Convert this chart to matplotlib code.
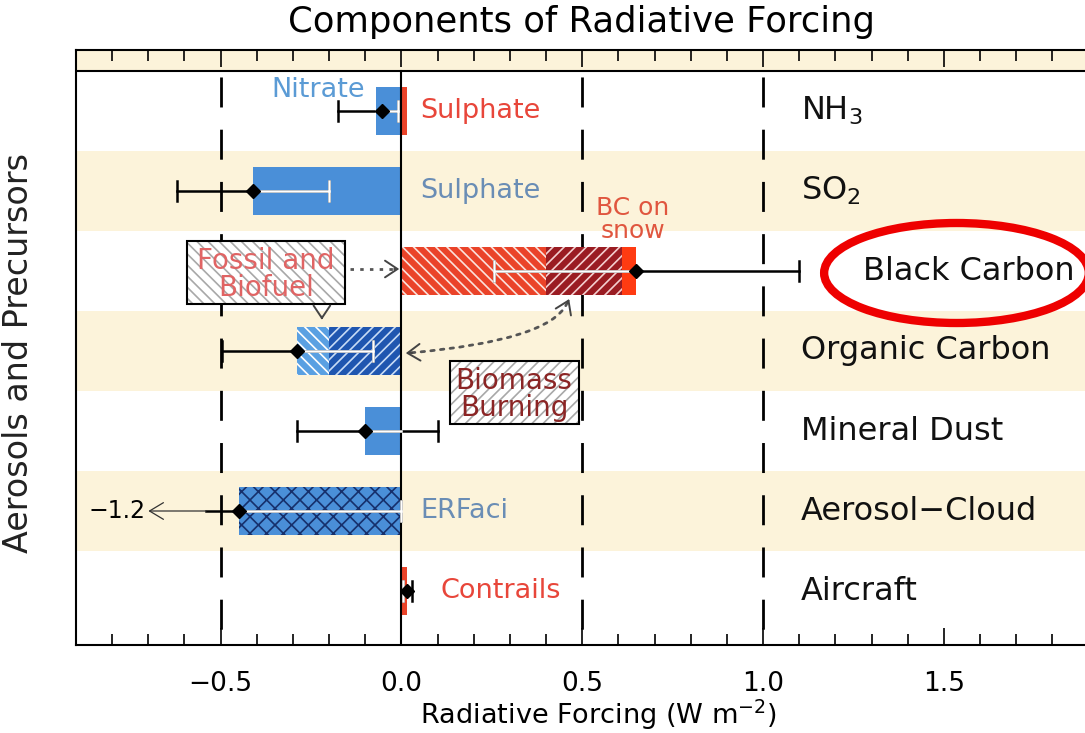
import matplotlib
matplotlib.use("Agg")
import matplotlib.pyplot as plt
from matplotlib.patches import Rectangle, Ellipse, FancyArrowPatch
from matplotlib.ticker import MultipleLocator

plt.rcParams["font.family"] = ["DejaVu Sans"]
plt.rcParams["hatch.linewidth"] = 1.2
plt.rcParams["lines.scale_dashes"] = False

# ---- data -------------------------------------------------------------
categories = ["NH$_3$", "SO$_2$", "Black Carbon", "Organic Carbon",
              "Mineral Dust", "Aerosol\u2212Cloud", "Aircraft"]
best = [-0.055, -0.41, 0.65, -0.29, -0.10, -0.45, 0.015]
err_low = [-0.175, -0.62, 0.255, -0.495, -0.29, -1.2, 0.005]
err_high = [-0.01, -0.20, 1.10, -0.078, 0.10, 0.0, 0.03]

nh3_nitrate = -0.07
nh3_sulphate = 0.015
so2_sulphate = -0.41
bc_parts = [0.40, 0.21, 0.04]      # fossil & biofuel, biomass burning, on snow
oc_parts = [-0.20, -0.09]          # biomass burning, fossil & biofuel
dust = -0.10
erfaci = -0.45
contrails = 0.015

# ---- styling ----------------------------------------------------------
BLUE = "#4a8fd8"
RED = "#ea4329"
DARKRED = "#9a1c22"
SNOW = "#ff3b12"
OC_LIGHT = "#5aa0e2"
OC_DARK = "#1f56b0"
CREAM = "#fcf3da"
BAR_H = 0.6

fig = plt.figure(figsize=(10.85, 7.33), dpi=100)
ax = fig.add_axes([76 / 1085, 88 / 733, 1045 / 1085, 595 / 733])
x_left, x_right = -0.9, 1.99
y_top, y_bot = -0.7625, 6.675
ax.set_xlim(x_left, x_right)
ax.set_ylim(y_bot, y_top)

# alternating row shading
for yc in (-1, 1, 3, 5):
    ax.axhspan(yc - 0.5, yc + 0.5, color=CREAM, lw=0, zorder=0)
ax.axhline(-0.5, color="k", lw=1.5, zorder=3)

# reference lines
for xv in (-0.5, 0.5, 1.0):
    ax.plot([xv, xv], [-0.5, y_bot], color="k", lw=2.0,
            linestyle=(33.3, (21.6, 16.0)), zorder=1)
ax.plot([0, 0], [-0.5, y_bot], color="k", lw=1.5, zorder=4)

# ---- bars -------------------------------------------------------------
def seg(y, left, width, color, hatch=None, hcol=None):
    ax.barh(y, width, left=left, height=BAR_H, color=color, hatch=hatch,
            edgecolor=hcol if hcol else color, linewidth=0, zorder=2)

seg(0, 0, nh3_nitrate, BLUE)
seg(0, 0, nh3_sulphate, RED)
seg(1, 0, so2_sulphate, BLUE)
seg(2, 0, bc_parts[0], RED, "\\\\\\", "#fbe2dc")
seg(2, bc_parts[0], bc_parts[1], DARKRED, "///", "#f4d0d0")
seg(2, bc_parts[0] + bc_parts[1], bc_parts[2], SNOW)
seg(3, 0, oc_parts[0], OC_DARK, "///", "#c8dcf6")
seg(3, oc_parts[0], oc_parts[1], OC_LIGHT, "\\\\\\", "#ffffff")
seg(4, 0, dust, BLUE)
seg(5, 0, erfaci, BLUE, "xx", "#16306c")
seg(6, 0, contrails, RED)

bar_min = [nh3_nitrate, so2_sulphate, 0, sum(oc_parts), dust, erfaci, 0]
bar_max = [nh3_sulphate, 0, sum(bc_parts), 0, 0, 0, contrails]

# ---- uncertainty ranges -----------------------------------------------
CAP = 0.12
x_clip = -0.54          # where an off-scale range is cut and arrowed
for i in range(len(categories)):
    lo, hi = err_low[i], err_high[i]
    off_scale = lo < x_left
    lo_d = x_clip if off_scale else lo
    ax.plot([lo_d, hi], [i, i], color="k", lw=1.8, zorder=5)
    if not off_scale:
        ax.plot([lo, lo], [i - CAP, i + CAP], color="k", lw=1.8, zorder=5)
    ax.plot([hi, hi], [i - CAP, i + CAP], color="k", lw=1.8, zorder=5)
    a, b = max(lo, bar_min[i]), min(hi, bar_max[i])
    if b > a:
        ax.plot([a, b], [i, i], color="white", lw=1.8, zorder=5)
        for e in (lo, hi):
            if a <= e <= b:
                ax.plot([e, e], [i - CAP, i + CAP], color="white", lw=1.8,
                        zorder=5)
    ax.plot(best[i], i, marker="D", color="k", ms=7, zorder=6)
    if off_scale:
        ax.annotate("", xy=(-0.70, i), xytext=(x_clip, i),
                    arrowprops=dict(arrowstyle="->,head_length=0.5,head_width=0.3",
                                    lw=0.9, color="#333333", shrinkA=0,
                                    shrinkB=0, mutation_scale=20), zorder=5)
        ax.text(-0.708, i, f"{lo:.1f}".replace("-", "\u2212"), ha="right",
                va="center", fontsize=17, color="k", zorder=6)

# ---- labels -----------------------------------------------------------
LBL = 19.5
ax.text(-0.1, -0.26, "Nitrate", color="#5b9bd5", fontsize=LBL, ha="right",
        va="center", zorder=6)
ax.text(0.053, 0, "Sulphate", color="#e8463a", fontsize=LBL, va="center",
        zorder=6)
ax.text(0.053, 1, "Sulphate", color="#6a8db5", fontsize=LBL, va="center",
        zorder=6)
ax.text(0.64, 1.36, "BC on\nsnow", color="#e0563f", fontsize=18,
        ha="center", va="center", linespacing=0.95, zorder=6)
ax.text(0.053, 5, "ERFaci", color="#6a8db5", fontsize=LBL, va="center",
        zorder=6)
ax.text(0.108, 6, "Contrails", color="#e8463a", fontsize=LBL, va="center",
        zorder=6)

for i, cat in enumerate(categories):
    xt = 1.277 if cat == "Black Carbon" else 1.105
    ax.text(xt, i, cat, fontsize=23, va="center", color="#111111", zorder=6)

# source boxes
def source_box(x0, x1, y0, y1, text, tcolor, hatch):
    ax.add_patch(Rectangle((x0, y0), x1 - x0, y1 - y0, facecolor="white",
                           edgecolor="#a8a8a8", hatch=hatch, lw=0, zorder=6))
    ax.add_patch(Rectangle((x0, y0), x1 - x0, y1 - y0, fill=False,
                           edgecolor="k", lw=1.5, zorder=7))
    ax.text((x0 + x1) / 2, (y0 + y1) / 2 + 0.02, text, color=tcolor,
            fontsize=20, ha="center", va="center", linespacing=0.95, zorder=8)

source_box(-0.593, -0.155, 1.625, 2.4125, "Fossil and\nBiofuel", "#e06464", "\\\\\\")
source_box(0.133, 0.49, 3.125, 3.9125, "Biomass\nBurning", "#8b2525", "///")

DOT = (0, (2.5, 4.5))
HEAD = dict(arrowstyle="->,head_length=0.45,head_width=0.3", lw=1.4,
            color="#444444", shrinkA=0, shrinkB=0, mutation_scale=20)

ax.plot([-0.141, -0.02], [1.975, 1.975], color="#555555", lw=2,
        linestyle=DOT, zorder=6)
ax.annotate("", xy=(-0.006, 1.975), xytext=(-0.02, 1.975), arrowprops=HEAD,
            zorder=7)
ax.annotate("", xy=(-0.22, 2.61), xytext=(-0.22, 2.57), arrowprops=HEAD,
            zorder=7)

curve = FancyArrowPatch((0.02, 3.025), (0.46, 2.38), arrowstyle="-",
                        connectionstyle="angle3,angleA=5,angleB=70",
                        color="#555555", lw=2, linestyle=DOT, zorder=6)
ax.add_patch(curve)
ax.annotate("", xy=(0.012, 3.027), xytext=(0.03, 3.022), arrowprops=HEAD,
            zorder=7)
ax.annotate("", xy=(0.464, 2.35), xytext=(0.459, 2.40), arrowprops=HEAD,
            zorder=7)

ax.add_patch(Ellipse((1.535, 2.025), 0.732, 1.25, fill=False,
                     edgecolor="#ee0000", lw=6, zorder=9, clip_on=False))

# ---- axes -------------------------------------------------------------
ax.xaxis.set_major_locator(MultipleLocator(0.5))
ax.xaxis.set_minor_locator(MultipleLocator(0.1))
ax.tick_params(axis="x", which="both", direction="in", top=True, bottom=True,
               width=1.2, labelsize=19, pad=19)
ax.tick_params(axis="x", which="major", length=12)
ax.tick_params(axis="x", which="minor", length=8)
ax.set_yticks([])
for s in ("left", "top", "bottom"):
    ax.spines[s].set_linewidth(1.5)
ax.spines["right"].set_visible(False)

ax.set_xlabel("Radiative Forcing (W m$^{-2}$)", fontsize=19.5, labelpad=0)
ax.set_ylabel("Aerosols and Precursors", fontsize=24, color="#222222")
ax.yaxis.set_label_coords(-0.039, 0.49)
fig.text(0.536, 0.97, "Components of Radiative Forcing", fontsize=25.5,
         ha="center", va="center")

fig.savefig("out.png", dpi=100)
